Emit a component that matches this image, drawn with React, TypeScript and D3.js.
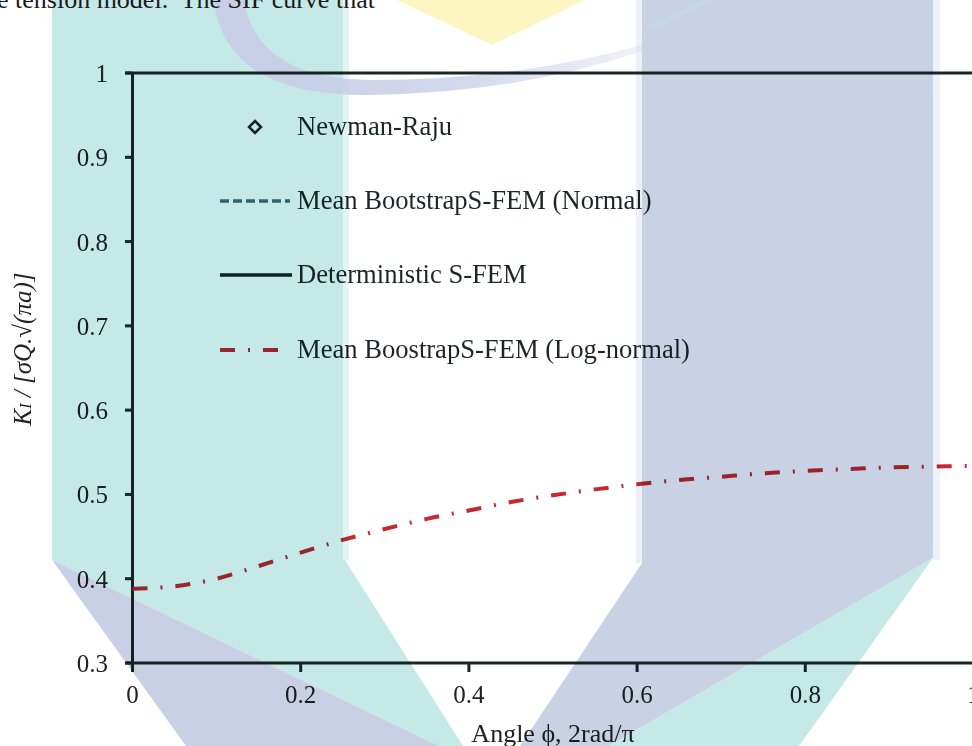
import React from "react";
import * as d3 from "d3";

const angle = [0, 0.05, 0.1, 0.15, 0.2, 0.25, 0.3, 0.35, 0.4, 0.45, 0.5, 0.55, 0.6, 0.65, 0.7, 0.75, 0.8, 0.85, 0.9, 0.95, 1.0];
const kLogNormal = [0.388, 0.391, 0.4, 0.415, 0.431, 0.446, 0.459, 0.471, 0.481, 0.491, 0.499, 0.506, 0.512, 0.517, 0.521, 0.525, 0.528, 0.53, 0.532, 0.533, 0.534];

const xTicks = [0, 0.2, 0.4, 0.6, 0.8, 1];
const xTickLabels = ["0", "0.2", "0.4", "0.6", "0.8", "1"];
const yTicks = [0.3, 0.4, 0.5, 0.6, 0.7, 0.8, 0.9, 1];
const yTickLabels = ["0.3", "0.4", "0.5", "0.6", "0.7", "0.8", "0.9", "1"];

const legendLabels = [
  "Newman-Raju",
  "Mean BootstrapS-FEM (Normal)",
  "Deterministic S-FEM",
  "Mean BoostrapS-FEM (Log-normal)",
];

const W = 972;
const H = 746;
const FONT = "'Liberation Serif', 'Times New Roman', serif";

export default function App() {
  const x = d3.scaleLinear().domain([0, 1]).range([132.5, 973.5]);
  const y = d3.scaleLinear().domain([0.3, 1]).range([663, 73]);
  const line = d3
    .line<number>()
    .x((_, i) => x(angle[i]))
    .y((d) => y(d))
    .curve(d3.curveMonotoneX);

  const red = "#c42a30";
  const ink = "#1c2626";
  const legendY = [127, 201, 275, 350];

  return (
    <svg
      width={W}
      height={H}
      style={{ position: "absolute", left: 0, top: 0, background: "#fff" }}
    >
      <defs>
        <linearGradient id="arcFade" x1="0" x2="1" y1="0" y2="0">
          <stop offset="0" stopColor="#c8cde6" stopOpacity={0.95} />
          <stop offset="0.55" stopColor="#c8cde6" stopOpacity={0.8} />
          <stop offset="1" stopColor="#c8cde6" stopOpacity={0.25} />
        </linearGradient>
      </defs>
      {/* watermark */}
      <g>
        <polygon points="52,0 343,0 343,557 463,746 439,746 52,560" fill="#c4e9e7" />
        <rect x={343} y={0} width={6} height={560} fill="#e4f4f3" />
        <polygon points="52,560 439,746 186,746" fill="#c9d0e5" />
        <polygon points="642,0 933,0 933,558 609,746 520,746 642,563" fill="#c9d1e5" />
        <rect x={636} y={0} width={6} height={563} fill="#eef0f7" />
        <rect x={933} y={0} width={7} height={560} fill="#f0f1f7" />
        <polygon points="933,558 799,746 609,746" fill="#c4e9e7" />
        <polygon points="397,0 585,0 492,45" fill="#fdf6c2" />
        <path
          d="M214,0 Q224,96 370,95 Q520,93 645,50 L645,44 Q520,80 370,80 Q256,78 244,0 Z"
          fill="url(#arcFade)"
        />
        <polygon points="702,0 714,0 652,30 644,28" fill="#c2dde6" opacity={0.6} />
      </g>

      <text
        x={-3}
        y={8}
        fontFamily={FONT}
        fontSize={26}
        fill="#1a1a1a"
        style={{ whiteSpace: "pre" }}
      >
        {"e tension model.  The SIF curve that"}
      </text>

      <g style={{ mixBlendMode: "multiply" }}>
        {/* frame */}
        <line x1={125} x2={W} y1={y(1)} y2={y(1)} stroke={ink} strokeWidth={3} />
        <line x1={125} x2={W} y1={y(0.3)} y2={y(0.3)} stroke={ink} strokeWidth={3} />
        <line x1={x(0)} x2={x(0)} y1={y(1)} y2={y(0.3) + 9} stroke={ink} strokeWidth={3} />

        {yTicks.map((t, i) => (
          <g key={"y" + i}>
            <line x1={125} x2={x(0)} y1={y(t)} y2={y(t)} stroke={ink} strokeWidth={3} />
            <text
              x={108}
              y={y(t) + 9}
              textAnchor="end"
              fontFamily={FONT}
              fontSize={25}
              fill="#222"
            >
              {yTickLabels[i]}
            </text>
          </g>
        ))}
        {xTicks.map((t, i) => (
          <g key={"x" + i}>
            <line x1={x(t)} x2={x(t)} y1={y(0.3)} y2={y(0.3) + 9} stroke={ink} strokeWidth={3} />
            <text
              x={x(t)}
              y={703}
              textAnchor="middle"
              fontFamily={FONT}
              fontSize={25}
              fill="#222"
            >
              {xTickLabels[i]}
            </text>
          </g>
        ))}

        {/* axis titles */}
        <text
          x={553}
          y={742}
          textAnchor="middle"
          fontFamily={FONT}
          fontSize={26}
          fill="#222"
        >
          Angle ϕ, 2rad/π
        </text>
        <text
          transform="translate(31,349) rotate(-90)"
          textAnchor="middle"
          fontFamily={FONT}
          fontSize={25}
          fontStyle="italic"
          fill="#222"
        >
          K<tspan fontSize={16}>I</tspan> / [σQ.√(πa)]
        </text>

        {/* data */}
        <path
          d={line(kLogNormal) || ""}
          fill="none"
          stroke={red}
          strokeWidth={4}
          strokeDasharray="15,13,2,13"
        />

        {/* legend */}
        <path
          d={`M255,${legendY[0] - 6} L261,${legendY[0]} L255,${legendY[0] + 6} L249,${legendY[0]} Z`}
          fill="none"
          stroke={ink}
          strokeWidth={2.5}
        />
        <line x1={220} x2={290} y1={legendY[1]} y2={legendY[1]} stroke="#3f6b80" strokeWidth={3.5} strokeDasharray="9,4" />
        <line x1={220} x2={292} y1={legendY[2]} y2={legendY[2]} stroke="#0f2424" strokeWidth={3.5} />
        <line x1={220} x2={282} y1={legendY[3]} y2={legendY[3]} stroke={red} strokeWidth={4} strokeDasharray="15,13,2,13" />
        {legendLabels.map((s, i) => (
          <text
            key={"l" + i}
            x={297}
            y={legendY[i] + 8}
            fontFamily={FONT}
            fontSize={26.6}
            fill="#1c2626"
          >
            {s}
          </text>
        ))}
      </g>
    </svg>
  );
}
